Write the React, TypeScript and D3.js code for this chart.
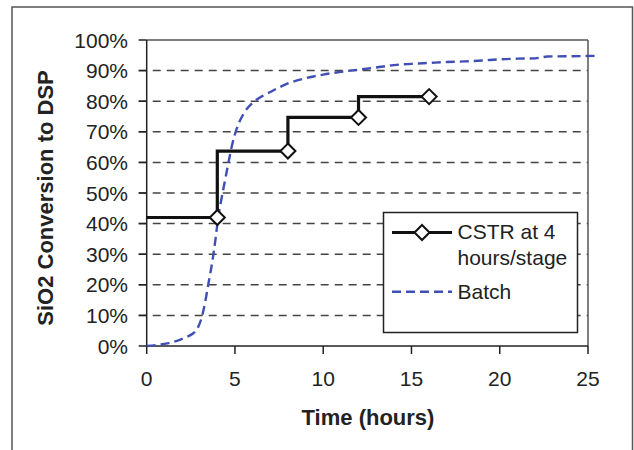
import React from "react";
import * as d3 from "d3";

const yTicks = [0, 10, 20, 30, 40, 50, 60, 70, 80, 90, 100];
const xTicks = [0, 5, 10, 15, 20, 25];

const cstrTime = [0, 4, 8, 12, 16];
const cstrValue = [42, 42, 63.7, 74.7, 81.5];

const batchTime = [0, 0.5, 1, 1.5, 2.2, 2.6, 2.9, 3.1, 3.3, 3.5, 3.7, 3.9, 4.05, 4.2, 4.4, 4.6, 4.85, 5.1, 5.5, 6.0, 6.5, 7, 7.5, 8, 9, 10, 11, 12, 13, 14, 15, 16, 17, 18, 19, 20, 21, 22, 22.7, 24, 25.4];
const batchValue = [0, 0.3, 0.7, 1.3, 2.8, 4, 6, 9, 14, 20.5, 27, 35, 42, 47, 53, 59, 66, 71, 76, 79.5, 81.5, 83, 84.5, 85.8, 87.5, 88.7, 89.6, 90.3, 91, 91.8, 92.2, 92.5, 92.8, 93, 93.3, 93.7, 93.9, 94, 94.6, 94.7, 94.8];

const legendLabels = ["CSTR at 4", "hours/stage", "Batch"];

const W = 634, H = 450;
const L = 146.7, R = 588, T = 40, B = 346;
const FONT = "'Liberation Sans', Arial, sans-serif";
const BLUE = "#3f4fb3";

export default function App() {
  const x = d3.scaleLinear().domain([0, 25]).range([L, R]);
  const y = d3.scaleLinear().domain([0, 100]).range([B, T]);

  const cstr = cstrTime.map((t, i) => [t, cstrValue[i]] as [number, number]);
  const batch = batchTime.map((t, i) => [t, batchValue[i]] as [number, number]);

  const cstrLine = d3.line<[number, number]>().x(d => x(d[0])).y(d => y(d[1])).curve(d3.curveStepBefore);
  const batchLine = d3.line<[number, number]>().x(d => x(d[0])).y(d => y(d[1])).curve(d3.curveMonotoneX);

  const diamond = (cx: number, cy: number, r: number) =>
    `M${cx},${cy - r}L${cx + r},${cy}L${cx},${cy + r}L${cx - r},${cy}Z`;

  return (
    <svg width={W} height={H} style={{ position: "absolute", left: 0, top: 0, background: "#fff" }} fontFamily={FONT}>
      <rect x={0} y={0} width={W} height={H} fill="#fff" />
      <rect x={12} y={7} width={620.5} height={470} fill="none" stroke="#555" strokeWidth={1.5} />
      {yTicks.filter(v => v > 0 && v < 100).map(v => (
        <line key={"g" + v} x1={L - 8} x2={R} y1={y(v)} y2={y(v)} stroke="#444" strokeWidth={1.5} strokeDasharray="8,6" />
      ))}
      <line x1={L} x2={R} y1={T} y2={T} stroke="#555" strokeWidth={1.5} />
      <line x1={R} x2={R} y1={T} y2={B} stroke="#555" strokeWidth={1.5} />
      <line x1={L} x2={L} y1={T} y2={B} stroke="#222" strokeWidth={1.5} />
      {yTicks.map(v => (
        <g key={"yt" + v}>
          <line x1={L - 8} x2={L} y1={y(v)} y2={y(v)} stroke="#222" strokeWidth={1.5} />
          <text x={128} y={y(v) + 7.5} textAnchor="end" fontSize={21} fill="#222">{v + "%"}</text>
        </g>
      ))}
      <line x1={L} x2={R} y1={B} y2={B} stroke="#222" strokeWidth={1.5} />
      {xTicks.map(v => (
        <g key={"xt" + v}>
          <line x1={x(v)} x2={x(v)} y1={B} y2={B + 8} stroke="#222" strokeWidth={1.5} />
          <text x={x(v)} y={386} textAnchor="middle" fontSize={21} fill="#222">{v}</text>
        </g>
      ))}
      <text x={368} y={425} textAnchor="middle" fontSize={22} fontWeight="bold" fill="#222">Time (hours)</text>
      <text transform={`translate(53,198) rotate(-90)`} textAnchor="middle" fontSize={22} fontWeight="bold" fill="#222">SiO2 Conversion to DSP</text>
      <path d={batchLine(batch) || ""} fill="none" stroke={BLUE} strokeWidth={2.4} strokeDasharray="9,5" />
      <path d={cstrLine(cstr) || ""} fill="none" stroke="#111" strokeWidth={3.2} />
      {cstr.slice(1).map((d, i) => (
        <path key={"m" + i} d={diamond(x(d[0]), y(d[1]), 7.5)} fill="#fff" stroke="#111" strokeWidth={2} />
      ))}
      <rect x={383.5} y={212.5} width={194} height={120} fill="#fff" stroke="#222" strokeWidth={1.5} />
      <line x1={392} x2={452} y1={232.5} y2={232.5} stroke="#111" strokeWidth={3.2} />
      <path d={diamond(422, 232.5, 7.5)} fill="#fff" stroke="#111" strokeWidth={2} />
      <text x={457.5} y={238.5} fontSize={21} fill="#222">{legendLabels[0]}</text>
      <text x={457.5} y={265} fontSize={21} fill="#222">{legendLabels[1]}</text>
      <line x1={392} x2={452} y1={291.7} y2={291.7} stroke={BLUE} strokeWidth={2.4} strokeDasharray="9,5" />
      <text x={457.5} y={299} fontSize={21} fill="#222">{legendLabels[2]}</text>
    </svg>
  );
}
